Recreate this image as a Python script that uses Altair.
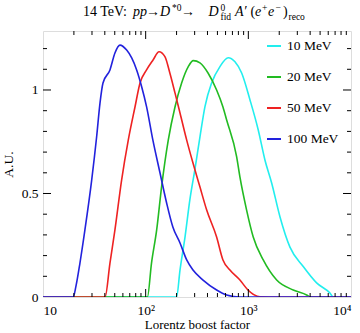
import altair as alt
import pandas as pd

# Lorentz boost factor (x) and A.U. (y) for each A' mass
x_10 = [10, 200, 216, 242, 270, 302, 338, 378, 439, 529, 637, 741, 861, 1038, 1249, 1451, 1687, 2032, 2543, 3426, 4624, 6237, 6716, 10000]
y_10 = [0, 0, 0.130, 0.292, 0.473, 0.618, 0.774, 0.920, 1.034, 1.113, 1.156, 1.136, 1.082, 0.952, 0.807, 0.662, 0.551, 0.388, 0.241, 0.147, 0.068, 0.019, 0.0, 0]

x_20 = [10, 104, 114, 128, 143, 166, 193, 224, 260, 291, 338, 405, 491, 566, 615, 769, 828, 962, 1116, 1397, 1888, 2736, 3696, 3981, 10000]
y_20 = [0, 0, 0.164, 0.324, 0.533, 0.758, 0.918, 1.034, 1.113, 1.142, 1.131, 1.082, 1.0, 0.918, 0.855, 0.678, 0.580, 0.420, 0.290, 0.179, 0.082, 0.034, 0.010, 0.0015, 0]

x_50 = [10, 40.2, 44.9, 50.2, 58.3, 67.7, 78.7, 88.1, 102, 118, 135, 154, 172, 193, 216, 251, 289, 338, 393, 491, 566, 662, 828, 991, 1297, 1897, 10000]
y_50 = [0, 0, 0.164, 0.324, 0.565, 0.758, 0.918, 1.034, 1.097, 1.145, 1.185, 1.161, 1.082, 0.986, 0.889, 0.758, 0.647, 0.531, 0.420, 0.290, 0.179, 0.130, 0.082, 0.034, 0.0015, 0, 0]

x_100 = [10, 19.7, 20.9, 22.9, 25.6, 29.8, 33.3, 35.9, 38.4, 44.9, 50.2, 56.2, 65.3, 73.1, 81.7, 91.4, 102, 118, 138, 160, 184, 216, 251, 289, 362, 491, 615, 828, 10000]
y_100 = [0, 0, 0.05, 0.164, 0.324, 0.565, 0.774, 0.937, 1.034, 1.097, 1.179, 1.217, 1.193, 1.155, 1.097, 1.016, 0.92, 0.754, 0.599, 0.454, 0.338, 0.261, 0.179, 0.130, 0.082, 0.034, 0.010, 0.0, 0]

masses = ["10 MeV", "20 MeV", "50 MeV", "100 MeV"]
colors = ["#22eeee", "#22bb22", "#ee2222", "#2222dd"]

x_major = [10, 100, 1000, 10000]
x_minor = [20, 30, 40, 50, 60, 70, 80, 90, 200, 300, 400, 500, 600, 700, 800, 900,
           2000, 3000, 4000, 5000, 6000, 7000, 8000, 9000]
y_major = [0, 0.5, 1]
y_minor = [0.1, 0.2, 0.3, 0.4, 0.6, 0.7, 0.8, 0.9, 1.1, 1.2]

W, H = 308, 266
FONT = "Liberation Serif"
FS = 13.5

rows = []
for m, xs, ys in zip(masses, [x_10, x_20, x_50, x_100], [y_10, y_20, y_50, y_100]):
    for a, b in zip(xs, ys):
        rows.append({"mass": m, "gamma": a, "au": b})
df = pd.DataFrame(rows)

xscale = alt.Scale(type="log", domain=[10, 10000], nice=False)
yscale = alt.Scale(domain=[0, 1.285], nice=False, zero=False)

xlab = ("datum.value == 10 ? '10' : datum.value == 100 ? '10\u00b2' : "
        "datum.value == 1000 ? '10\u00b3' : '10\u2074'")

lines = alt.Chart(df).mark_line(strokeWidth=1.6, clip=True, interpolate="monotone").encode(
    x=alt.X("gamma:Q", scale=xscale,
            axis=alt.Axis(values=x_major, labelExpr=xlab, ticks=False, domain=False, grid=False,
                          title="Lorentz boost factor", labelFont=FONT, labelFontSize=FS,
                          labelPadding=6, titleFont=FONT, titleFontSize=13,
                          titleFontWeight="normal", titlePadding=2, labelColor="black",
                          titleColor="black")),
    y=alt.Y("au:Q", scale=yscale,
            axis=alt.Axis(values=y_major, labelExpr="'' + datum.value", ticks=False, domain=False,
                          grid=False, title="A.U.", labelFont=FONT, labelFontSize=FS,
                          labelPadding=5, titleFont=FONT, titleFontSize=FS,
                          titleFontWeight="normal", titlePadding=6, labelColor="black",
                          titleColor="black")),
    color=alt.Color("mass:N", scale=alt.Scale(domain=masses, range=colors),
                    legend=alt.Legend(orient="none", legendX=223, legendY=7, title=None,
                                      symbolType="stroke", symbolStrokeWidth=2, symbolSize=196,
                                      labelFont=FONT, labelFontSize=FS, labelColor="black",
                                      rowPadding=16, padding=0, labelOffset=5)),
    order=alt.Order("gamma:Q"),
)

xmaj = pd.DataFrame({"v": x_major[1:3]})
xmin = pd.DataFrame({"v": x_minor})
ymaj = pd.DataFrame({"v": y_major[1:]})
ymin = pd.DataFrame({"v": y_minor})

def xt(d, L, bottom):
    if bottom:
        return alt.Chart(d).mark_rule(color="black", strokeWidth=1).encode(
            x=alt.X("v:Q", scale=xscale), y=alt.value(H), y2=alt.value(H - L))
    return alt.Chart(d).mark_rule(color="black", strokeWidth=1).encode(
        x=alt.X("v:Q", scale=xscale), y=alt.value(0), y2=alt.value(L))

def yt(d, L, left):
    if left:
        return alt.Chart(d).mark_rule(color="black", strokeWidth=1).encode(
            y=alt.Y("v:Q", scale=yscale), x=alt.value(0), x2=alt.value(L))
    return alt.Chart(d).mark_rule(color="black", strokeWidth=1).encode(
        y=alt.Y("v:Q", scale=yscale), x=alt.value(W), x2=alt.value(W - L))

ticks = [xt(xmaj, 8, True), xt(xmin, 4, True), xt(xmaj, 8, False), xt(xmin, 4, False),
         yt(ymaj, 8, True), yt(ymin, 4, True), yt(ymaj, 8, False), yt(ymin, 4, False)]

# title pieces: (text, x, y, size, italic)
pieces = [
    ("14 TeV:", 83, 16, 14, False),
    ("pp", 133, 16, 14, True),
    ("\u2192", 146, 16, 14, False),
    ("D", 160, 16, 14, True),
    ("*0", 172, 11, 9.5, False),
    ("\u2192", 181, 16, 14, False),
    ("D", 208.5, 16, 14, True),
    ("0", 220.5, 11, 9.5, False),
    ("fid", 220.5, 19.5, 9.5, False),
    ("A\u2032", 235, 16, 14, True),
    ("(", 250.5, 16, 14, False),
    ("e", 255, 16, 14, True),
    ("+", 262, 11, 9.5, False),
    ("e", 268, 16, 14, True),
    ("\u2212", 275.5, 11, 9.5, False),
    (")", 283, 16, 14, False),
    ("reco", 288.5, 19.5, 9.5, False),
]
title_layers = []
for t, px, py, fs, it in pieces:
    title_layers.append(
        alt.Chart(pd.DataFrame({"t": [t]})).mark_text(
            align="left", baseline="alphabetic", font=FONT, fontSize=fs,
            fontStyle="italic" if it else "normal", color="black", clip=False
        ).encode(text="t:N", x=alt.value(px - 43), y=alt.value(py - 31))
    )

chart = alt.layer(lines, *ticks, *title_layers).properties(
    width=W, height=H,
    padding={"left": 43, "top": 31, "right": 9, "bottom": 36},
    autosize=alt.AutoSizeParams(type="none"),
).configure_view(stroke="black", strokeWidth=1.5).configure(background="white")

chart.save("out.html", embed_options={"renderer": "svg", "actions": False})
